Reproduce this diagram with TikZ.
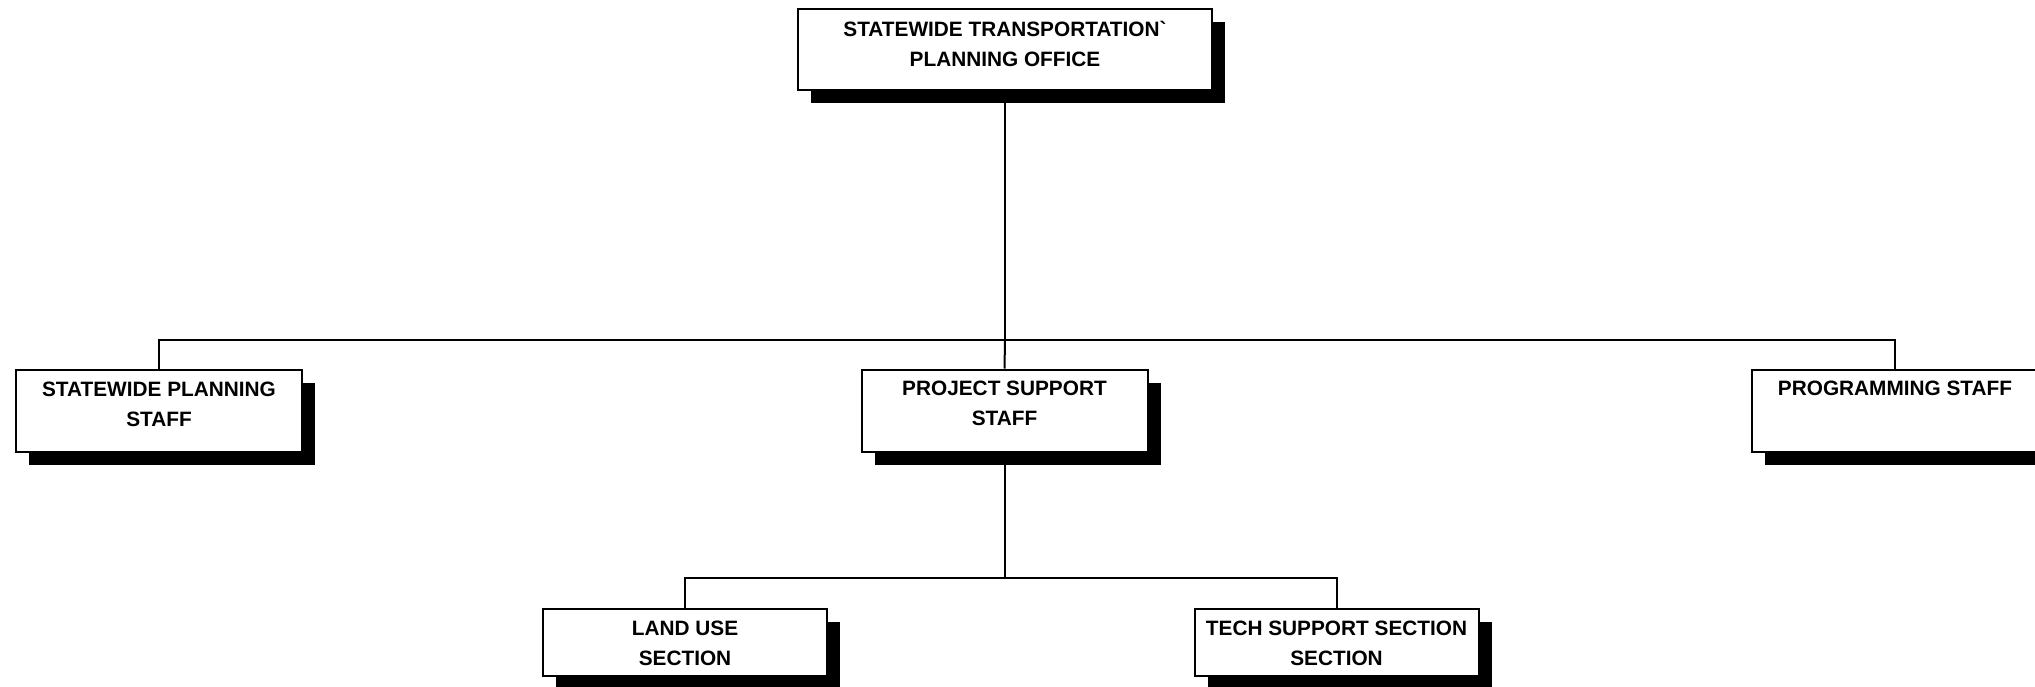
\documentclass[tikz,border=0pt]{standalone}
\usepackage{fontspec}
\setmainfont{Liberation Sans}[Ligatures=TeXOff]
\usetikzlibrary{shadows}
\begin{document}
\begin{tikzpicture}[x=0.5pt,y=-0.5pt,
  box/.style={draw=black, line width=1pt, fill=white, inner sep=0pt,
    general shadow={fill=black, shadow xshift=6.5pt, shadow yshift=-6.5pt}},
  upbox/.style={box, minimum width=143pt, minimum height=41pt},
  lowbox/.style={box, minimum width=142pt, minimum height=33.5pt},
  txt/.style={anchor=north, inner sep=0pt, align=center,
    font=\fontsize{10.4}{15}\selectfont\bfseries},
  conn/.style={line width=1pt}]
\useasboundingbox (0,0) rectangle (2035,686);
\begin{scope}
\clip (0,0) rectangle (2035,686);
% boxes
\node[box, minimum width=207pt, minimum height=40.5pt] (office) at (1005,49.5) {};
\node[upbox] (plan) at (159,411) {};
\node[upbox] (proj) at (1004.5,410.5) {};
\node[upbox] (prog) at (1895,410.5) {};
\node[lowbox] (land) at (685,642.5) {};
\node[lowbox] (tech) at (1336.5,642.5) {};
% texts
\node[txt] (officet) at ([yshift=-6.25pt]office.north) {STATEWIDE TRANSPORTATION`\\PLANNING OFFICE};
\node[txt] (plant) at ([yshift=-6.25pt]plan.north) {STATEWIDE PLANNING\\STAFF};
\node[txt] (projt) at ([yshift=-6.25pt]proj.north) {PROJECT SUPPORT\\STAFF};
\node[txt] (progt) at ([yshift=-6.25pt]prog.north) {PROGRAMMING STAFF};
\node[txt] (landt) at ([yshift=-6.25pt]land.north) {LAND USE\\SECTION};
\node[txt] (techt) at ([yshift=-6.25pt]tech.north) {TECH SUPPORT SECTION\\SECTION};
% connectors
\coordinate (bus1) at (1005,340);
\coordinate (bus2) at (1004.5,578);
\draw[conn] (office.south) -- (bus1);
\draw[conn] (bus1) -- (proj.north);
\draw[conn] (plan.north) |- (bus1) -| (prog.north);
\draw[conn] (proj.south) -- (bus2);
\draw[conn] (land.north) |- (bus2) -| (tech.north);
\end{scope}
\end{tikzpicture}
\end{document}
